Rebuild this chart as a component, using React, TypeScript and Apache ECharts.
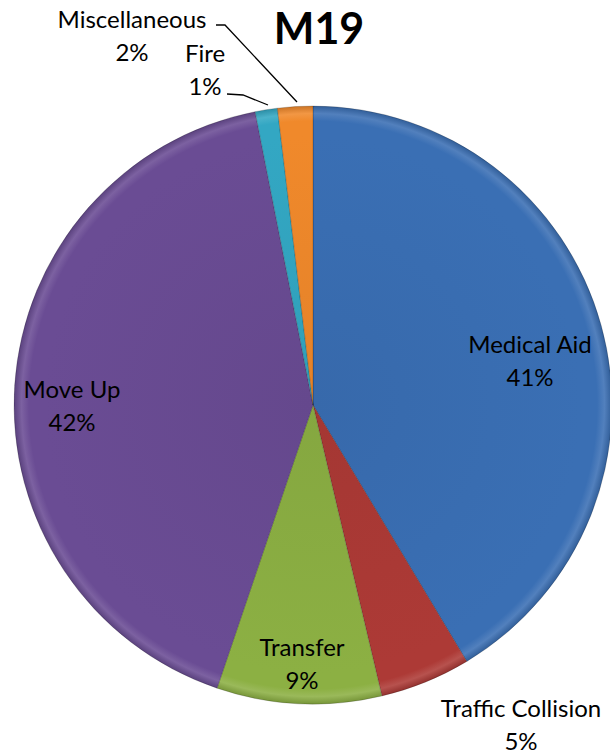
import React, { useEffect, useRef } from "react";
import * as echarts from "echarts";

const categories = ["Medical Aid", "Traffic Collision", "Transfer", "Move Up", "Fire", "Miscellaneous"];
const values = [41.4, 4.9, 8.9, 41.7, 1.2, 1.9];
const colors = ["#3a6fb4", "#ad3a36", "#8cb043", "#6a4c94", "#33a7c3", "#f0892b"];
const titleText = "M19";

const CX = 313;
const CY = 405;
const R = 299;
const FONT = "Lato, 'Open Sans', sans-serif";

// label anchor positions (centre of the two-line label) per slice
const labelPos: [number, number][] = [
  [530, 360],
  [521, 724],
  [302, 663],
  [72, 405],
  [205, 69],
  [132, 35],
];
const leaderLines: Record<number, [number, number][]> = {
  4: [[227, 94], [243, 95], [268, 105]],
  5: [[216, 25], [225, 25], [297, 102]],
};

function shade(hex: string, amt: number) {
  const n = parseInt(hex.slice(1), 16);
  let r = (n >> 16) & 255, g = (n >> 8) & 255, b = n & 255;
  const f = (c: number) => Math.max(0, Math.min(255, Math.round(amt >= 0 ? c + (255 - c) * amt : c * (1 + amt))));
  return `rgb(${f(r)},${f(g)},${f(b)})`;
}

export default function App() {
  const ref = useRef<HTMLDivElement>(null);
  useEffect(() => {
    if (!ref.current) return;
    const chart = echarts.init(ref.current, undefined, { renderer: "svg" });
    const data = categories.map((name, i) => ({
      name,
      value: values[i],
      itemStyle: {
        color: new echarts.graphic.RadialGradient(CX, CY, R, [
          { offset: 0, color: shade(colors[i], -0.05) },
          { offset: 0.9, color: colors[i] },
          { offset: 0.95, color: colors[i] },
          { offset: 0.975, color: shade(colors[i], 0.12) },
          { offset: 1, color: shade(colors[i], -0.15) },
        ], true),
      },
      labelLine: { show: !!leaderLines[i] },
    }));
    chart.setOption({
      animation: false,
      backgroundColor: "#ffffff",
      title: {
        text: titleText,
        left: 314,
        top: 1,
        textAlign: "center",
        textStyle: { fontFamily: FONT, fontSize: 43, fontWeight: "bold", color: "#000" },
      },
      series: [
        {
          type: "pie",
          center: [CX, CY],
          radius: [0, R],
          startAngle: 90,
          clockwise: true,
          percentPrecision: 0,
          avoidLabelOverlap: false,
          data,
          itemStyle: { borderColor: "rgba(0,0,0,0.18)", borderWidth: 1 },
          label: {
            show: true,
            position: "outside",
            formatter: "{b}\n{d}%",
            fontFamily: FONT,
            fontSize: 24,
            lineHeight: 33,
            color: "#000",
            align: "center",
          },
          labelLine: { show: false, lineStyle: { color: "#000", width: 1.3 } },
          labelLayout: (params: any) => {
            const i = params.dataIndex;
            const p = labelPos[i];
            const out: any = { x: p[0], y: p[1], align: "center", verticalAlign: "middle" };
            if (leaderLines[i]) out.labelLinePoints = leaderLines[i];
            return out;
          },
        },
      ],
    });
    return () => chart.dispose();
  }, []);
  return <div ref={ref} style={{ position: "fixed", left: 0, top: 0, width: 610, height: 755 }} />;
}
